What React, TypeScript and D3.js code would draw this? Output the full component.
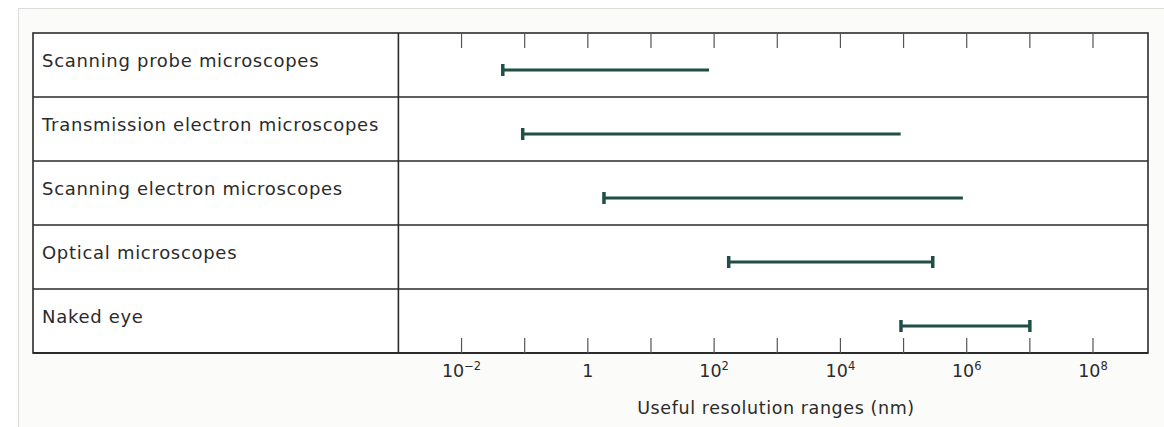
import { useEffect, useRef } from 'react';
import * as d3 from 'd3';

const categories = [
    'Scanning probe microscopes',
    'Transmission electron microscopes',
    'Scanning electron microscopes',
    'Optical microscopes',
    'Naked eye',
];
// useful resolution range (nm)
const lowValues = [0.045, 0.093, 1.8, 170, 9.1e4];
const highValues = [83, 9.0e4, 8.7e5, 2.9e5, 1.0e7];
const rightCapped = [false, false, false, true, true];

const tickExponents = [-2, 0, 2, 4, 6, 8];
const decadeTicks = [-2, -1, 0, 1, 2, 3, 4, 5, 6, 7, 8];
const axisTitle = 'Useful resolution ranges (nm)';

const App = () => {
    const svgRef = useRef<SVGSVGElement | null>(null);

    useEffect(() => {
        if (!svgRef.current) return;
        const svg = d3.select(svgRef.current);
        svg.selectAll('*').remove();

        const width = 1164;
        const height = 427;
        const frame = { left: 33, right: 1148, top: 33, bottom: 353 };
        const divider = 398.4;
        const font = "'DejaVu Sans', sans-serif";
        const ink = '#2b2b2b';
        const barColor = '#1f4f47';

        // scanned page background
        svg.append('rect').attr('width', width).attr('height', height).attr('fill', '#ffffff');
        svg.append('rect')
            .attr('x', 18.5).attr('y', 8.5)
            .attr('width', width - 18).attr('height', height - 8)
            .attr('fill', '#fbfbf9').attr('stroke', '#dcdcdc');

        const x = d3.scaleLog().domain([1e-3, 1e8]).range([divider, 1093]);
        const y = d3.scaleBand().domain(categories).range([frame.top, frame.bottom]);

        // frame and row dividers
        svg.append('rect')
            .attr('x', frame.left).attr('y', frame.top)
            .attr('width', frame.right - frame.left).attr('height', frame.bottom - frame.top)
            .attr('fill', '#ffffff').attr('stroke', ink).attr('stroke-width', 1.6);

        svg.append('g')
            .selectAll('line')
            .data(categories.slice(1))
            .join('line')
            .attr('x1', frame.left).attr('x2', frame.right)
            .attr('y1', d => y(d) as number).attr('y2', d => y(d) as number)
            .attr('stroke', ink).attr('stroke-width', 1.6);

        svg.append('line')
            .attr('x1', divider).attr('x2', divider)
            .attr('y1', frame.top).attr('y2', frame.bottom)
            .attr('stroke', ink).attr('stroke-width', 1.6);

        // heavier axis baseline
        svg.append('line')
            .attr('x1', frame.left).attr('x2', frame.right)
            .attr('y1', frame.bottom).attr('y2', frame.bottom)
            .attr('stroke', ink).attr('stroke-width', 2.2);

        // ticks, top (down) and bottom (up)
        const ticks = svg.append('g').attr('stroke', '#555').attr('stroke-width', 1.2);
        ticks.selectAll('line.top')
            .data(decadeTicks)
            .join('line')
            .attr('class', 'top')
            .attr('x1', d => x(Math.pow(10, d))).attr('x2', d => x(Math.pow(10, d)))
            .attr('y1', frame.top).attr('y2', frame.top + 15);
        ticks.selectAll('line.bottom')
            .data(decadeTicks)
            .join('line')
            .attr('class', 'bottom')
            .attr('x1', d => x(Math.pow(10, d))).attr('x2', d => x(Math.pow(10, d)))
            .attr('y1', frame.bottom).attr('y2', frame.bottom - 15);

        // tick labels
        const labels = svg.append('g')
            .attr('font-family', font)
            .attr('font-size', 17.5)
            .attr('fill', ink)
            .attr('text-anchor', 'middle');
        tickExponents.forEach(e => {
            const t = labels.append('text')
                .attr('x', x(Math.pow(10, e)))
                .attr('y', 377);
            if (e === 0) {
                t.text('1');
            } else {
                t.append('tspan').text('10');
                t.append('tspan')
                    .attr('dy', -7)
                    .attr('font-size', 11.5)
                    .text(e < 0 ? `\u2212${-e}` : `${e}`);
            }
        });

        svg.append('text')
            .attr('x', 776).attr('y', 414)
            .attr('text-anchor', 'middle')
            .attr('font-family', font).attr('font-size', 17.5)
            .attr('letter-spacing', 0.6)
            .attr('fill', ink)
            .text(axisTitle);

        // row labels
        svg.append('g')
            .selectAll('text')
            .data(categories)
            .join('text')
            .attr('x', 42)
            .attr('y', d => (y(d) as number) + y.bandwidth() / 2 + 2)
            .attr('font-family', font).attr('font-size', 18)
            .attr('letter-spacing', 0.7)
            .attr('fill', ink)
            .text(d => d);

        // range bars
        const bars = svg.append('g').attr('stroke', barColor);
        categories.forEach((c, i) => {
            const cy = (y(c) as number) + y.bandwidth() / 2 + 5;
            const x0 = x(lowValues[i]);
            const x1 = x(highValues[i]);
            bars.append('line')
                .attr('x1', x0).attr('x2', x1)
                .attr('y1', cy).attr('y2', cy)
                .attr('stroke-width', 3);
            bars.append('line')
                .attr('x1', x0).attr('x2', x0)
                .attr('y1', cy - 6).attr('y2', cy + 6)
                .attr('stroke-width', 3.5);
            if (rightCapped[i]) {
                bars.append('line')
                    .attr('x1', x1).attr('x2', x1)
                    .attr('y1', cy - 6).attr('y2', cy + 6)
                    .attr('stroke-width', 3.5);
            }
        });
    }, []);

    return (
        <svg
            ref={svgRef}
            width={1164}
            height={427}
            style={{ position: 'absolute', left: 0, top: 0 }}
        />
    );
};

export default App;
